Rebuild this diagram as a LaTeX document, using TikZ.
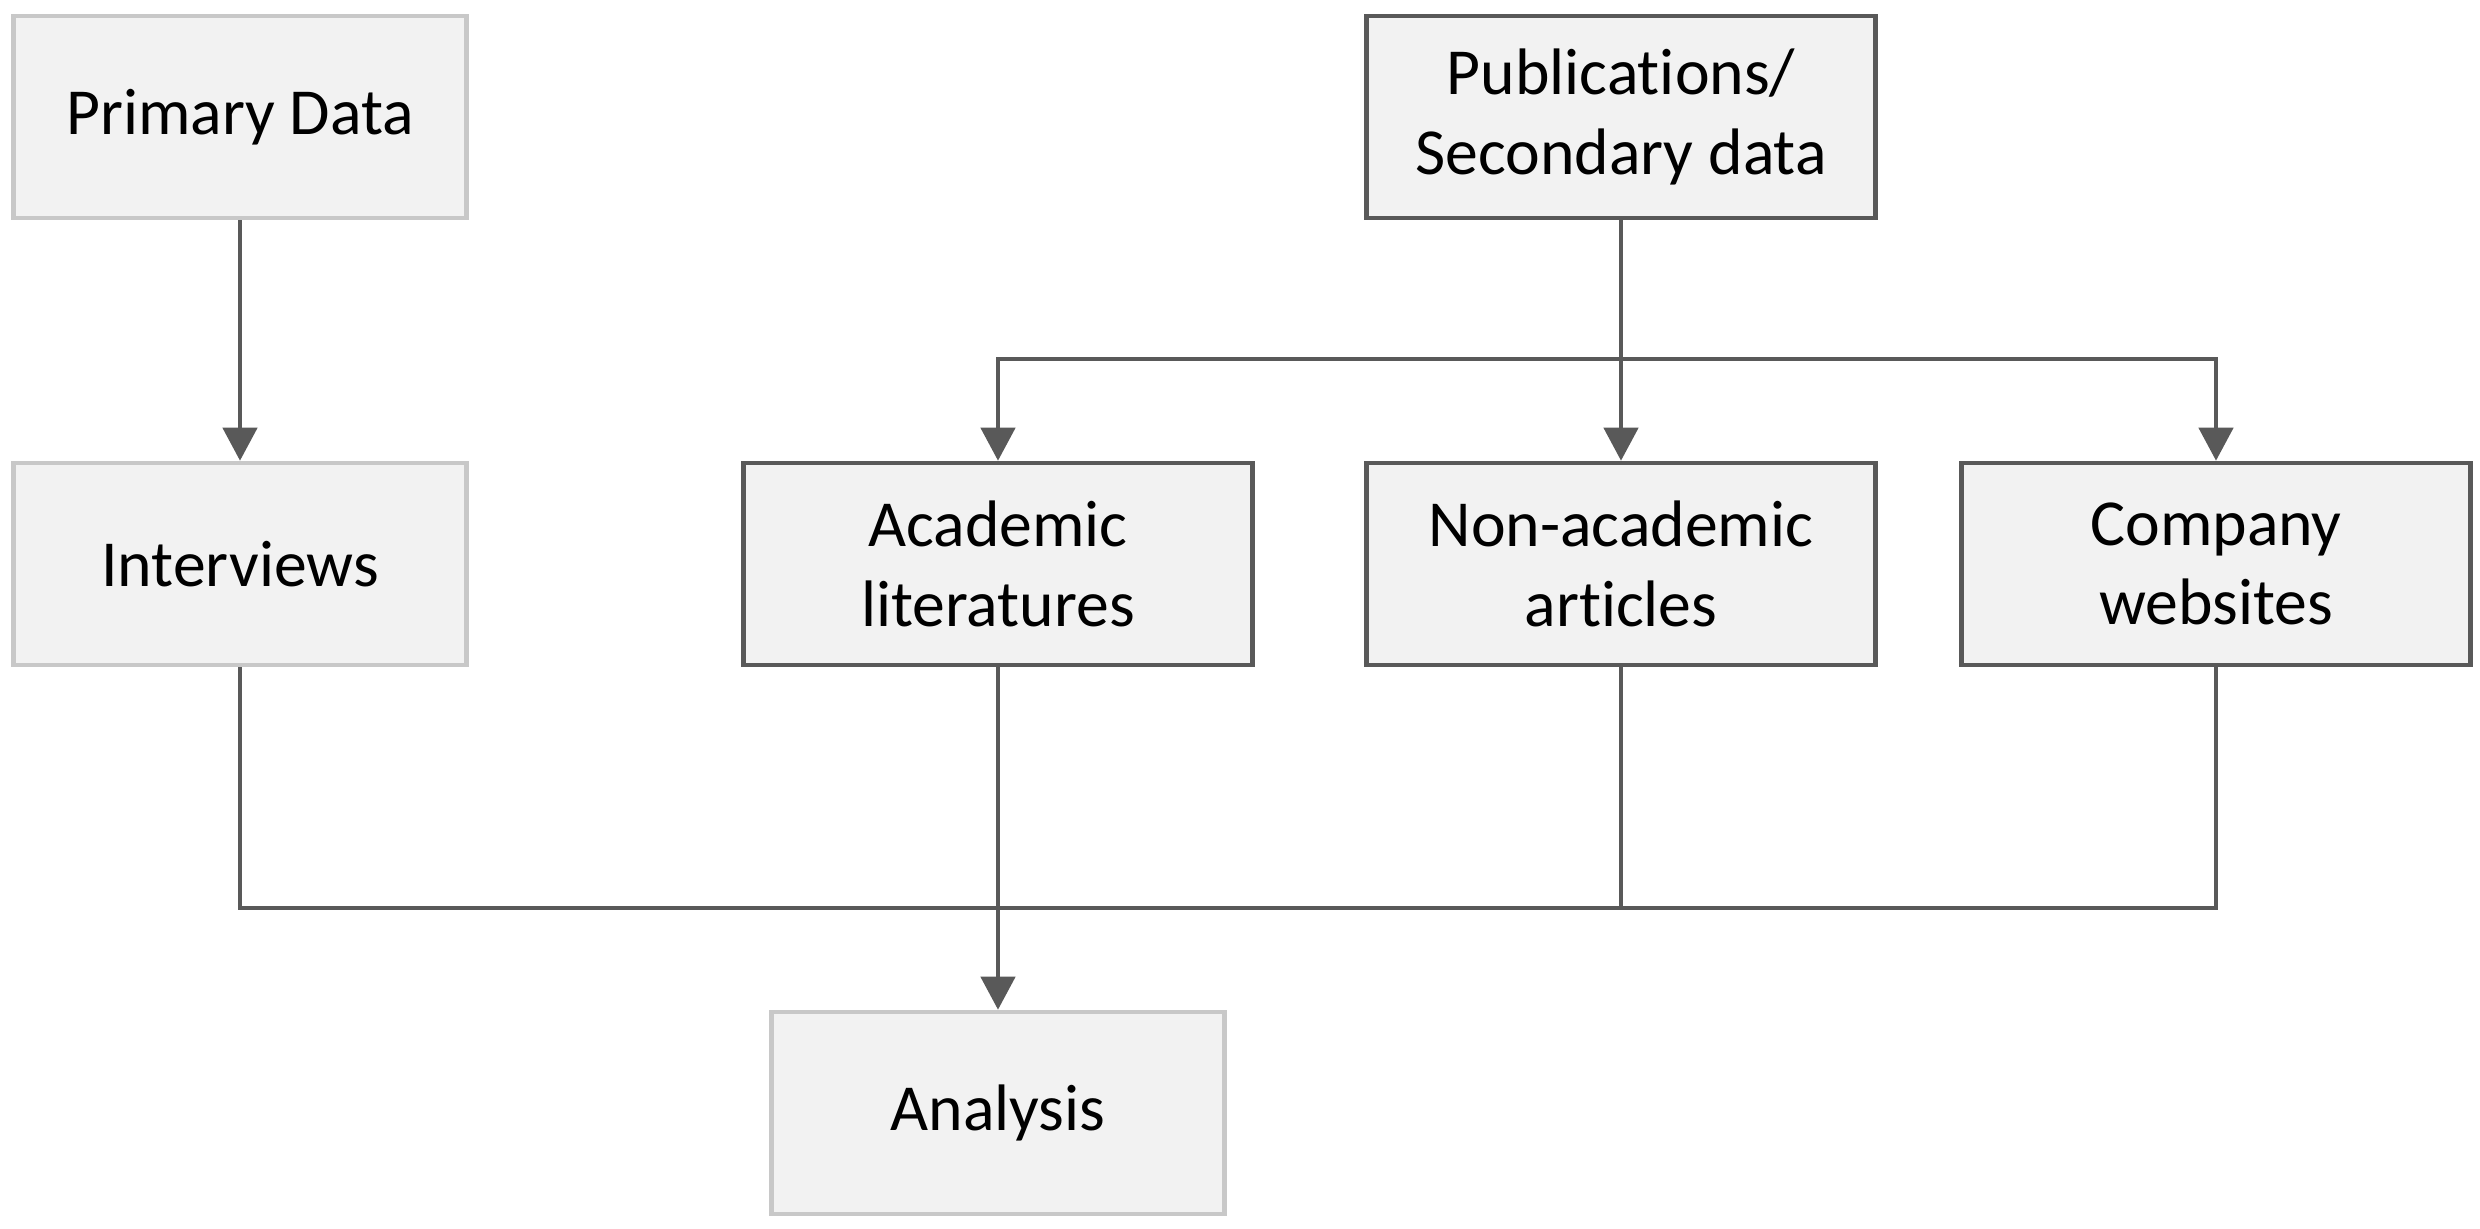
\documentclass[tikz,border=0pt]{standalone}
\usepackage{fontspec}
\setmainfont{Carlito}[Ligatures=NoCommon]
\usepackage{tikz}
\usetikzlibrary{arrows.meta}

\definecolor{boxfill}{HTML}{F2F2F2}
\definecolor{lightedge}{HTML}{C8C8C8}
\definecolor{darkedge}{HTML}{595959}

\tikzset{
  srcbox/.style={draw=lightedge, fill=boxfill, line width=1.3pt, minimum width=45.3mm, minimum height=20.2mm, align=center, inner sep=0.75pt},
  pubbox/.style={draw=darkedge, fill=boxfill, line width=1.3pt, minimum width=50.9mm, minimum height=20.2mm, align=center, inner sep=0.75pt},
  link/.style={draw=darkedge, line width=1.3pt},
  arr/.style={link, -{Triangle[length=3.3mm,width=3.4mm]}}
}

\begin{document}
\begin{tikzpicture}[x=0.1mm,y=0.1mm,yscale=-1,xscale=1]
\fontsize{18.7}{22.6}\selectfont
%set diagram left start at 0, and has height of 1228
\useasboundingbox (0,0) rectangle (2480,1228);

% Text Node
\node (pri) at (240,117) [srcbox] {Primary Data};
% Text Node
\node (pub) at (1621,117) [pubbox] {Publications/\\Secondary data};
% Text Node
\node (int) at (240,564) [srcbox] {Interviews};
% Text Node
\node (aca) at (998,564) [pubbox] {Academic\\literatures};
% Text Node
\node (non) at (1621,564) [pubbox] {Non-academic\\articles};
% Text Node
\node (com) at (2216,564) [pubbox] {Company\\websites};
% Text Node
\node (ana) at (998,1113) [srcbox] {Analysis};

\coordinate (split) at (1621,359);
\coordinate (merge) at (998,908);

%Straight Lines
\draw [arr] (pri.south) -- (int.north);
%Straight Lines
\draw [arr] (pub.south) -- (non.north);
\draw [arr] (split) -| (aca.north);
\draw [arr] (split) -| (com.north);
%Straight Lines
\draw [link] (int.south) |- (merge);
\draw [link] (com.south) |- (merge);
\draw [link] (non.south) -- (non.south |- merge);
\draw [arr] (aca.south) -- (ana.north);

\end{tikzpicture}
\end{document}
